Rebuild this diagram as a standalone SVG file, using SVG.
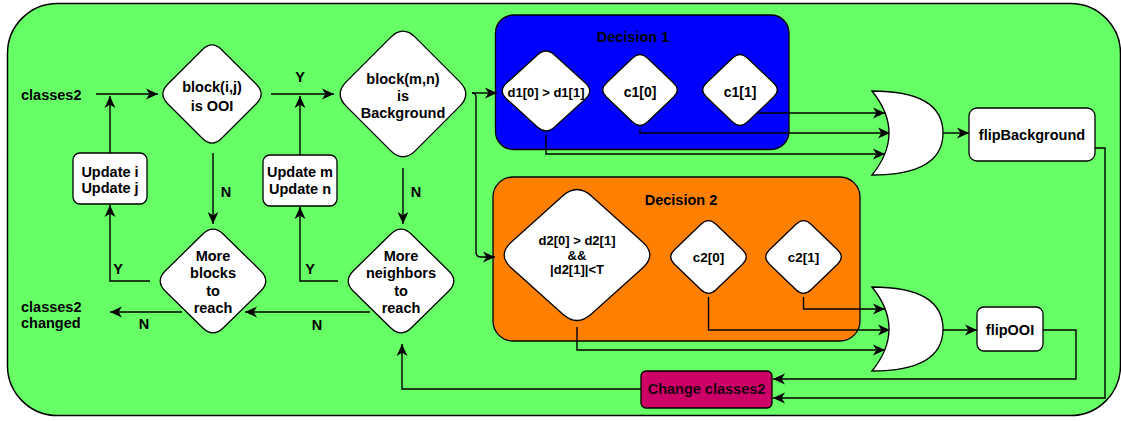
<svg xmlns="http://www.w3.org/2000/svg" width="1121" height="421" viewBox="0 0 1121 421">
<defs>
<marker id="arr" viewBox="0 0 10 10" refX="10" refY="5" markerWidth="12" markerHeight="12" markerUnits="userSpaceOnUse" orient="auto">
<path d="M0,0.5 L10,5 L0,9.5 L2.8,5 Z" fill="#000"/>
</marker>
<style>
.t{font-family:"Liberation Sans",Arial,Helvetica,sans-serif;font-weight:bold;font-size:14.5px;fill:#000;text-anchor:middle}
.s{text-anchor:start}
.n{fill:#fff;stroke:#000;stroke-width:1.3}
.c{fill:none;stroke:#000;stroke-width:1.4}
.a{marker-end:url(#arr)}
</style>
</defs>
<rect id="background" x="7.5" y="3.5" width="1113" height="412" rx="50" fill="#66FF66" stroke="#000" stroke-width="1.5"/>

<g id="decision1">
<rect x="495.5" y="15" width="293.5" height="134.5" rx="18" fill="#0000FF" stroke="#000" stroke-width="1.3"/>
<text class="t" x="633" y="42">Decision 1</text>
</g>
<g id="decision2">
<rect x="493" y="177" width="367" height="164" rx="20" fill="#FF8000" stroke="#000" stroke-width="1.3"/>
<text class="t" x="681" y="205">Decision 2</text>
</g>

<g id="connectors">
<path class="c a" d="M96,94 L158,94"/>
<path class="c a" d="M110,153 L110,96"/>
<path class="c a" d="M271,94 L334,94"/>
<path class="c a" d="M300,155 L300,96"/>
<path class="c a" d="M213,153 L213,224"/>
<path class="c a" d="M403,168 L403,224"/>
<path class="c a" d="M150,281 L110,281 L110,205"/>
<path class="c a" d="M338,281 L300,281 L300,207"/>
<path class="c a" d="M182,312 L110,312"/>
<path class="c a" d="M370,312 L245,312"/>
<path class="c a" d="M472,93 L497,93"/>
<path class="c a" d="M472,93 Q476,93 476,97 L476,252 Q476,257 481,257 L495,257"/>
<path class="c a" d="M757,113 L885,113"/>
<path class="c a" d="M640,129 L640,133 L890,133"/>
<path class="c a" d="M546,134.5 L546,154 L885,154"/>
<path class="c a" d="M943,133 L969,133"/>
<path class="c a" d="M803.5,297 L803.5,309 L885,309"/>
<path class="c a" d="M708.5,297 L708.5,330 L890,330"/>
<path class="c a" d="M577,327 L577,350 L885,350"/>
<path class="c a" d="M943,330 L977,330"/>
<path class="c a" d="M1043,330 L1076,330 L1076,379 L773,379"/>
<path class="c a" d="M1095,148 L1105,148 L1105,398 L773,398"/>
<path class="c a" d="M641,389 L402,389 L402,344"/>
<text class="t" x="300" y="82">Y</text>
<text class="t" x="226" y="197">N</text>
<text class="t" x="416" y="197">N</text>
<text class="t" x="118" y="274">Y</text>
<text class="t" x="310" y="274">Y</text>
<text class="t" x="144" y="329">N</text>
<text class="t" x="317" y="330">N</text>
</g>

<g id="classes2">
<text class="t s" x="21" y="100">classes2</text>
</g>
<g id="classes2-changed">
<text class="t s" x="21" y="312">classes2</text>
<text class="t s" x="21" y="328">changed</text>
</g>

<g id="block-ij">
<path class="n" d="M221.7,49.7 L256.3,84.3 Q266,94 256.3,103.7 L221.7,138.3 Q212,148 202.3,138.3 L167.7,103.7 Q158,94 167.7,84.3 L202.3,49.7 Q212,40 221.7,49.7 Z"/>
<text class="t" x="212" y="92">block(i,j)</text>
<text class="t" x="212" y="111">is OOI</text>
</g>
<g id="block-mn">
<path class="n" d="M415.4,37.4 L459.6,81.6 Q472,94 459.6,106.4 L415.4,150.6 Q403,163 390.6,150.6 L346.4,106.4 Q334,94 346.4,81.6 L390.6,37.4 Q403,25 415.4,37.4 Z"/>
<text class="t" x="403" y="84">block(m,n)</text>
<text class="t" x="403" y="101">is</text>
<text class="t" x="403" y="118">Background</text>
</g>
<g id="update-ij">
<rect class="n" x="73" y="153" width="74" height="51" rx="7"/>
<text class="t" x="110" y="177">Update i</text>
<text class="t" x="110" y="193">Update j</text>
</g>
<g id="update-mn">
<rect class="n" x="263" y="155" width="74" height="51" rx="7"/>
<text class="t" x="300" y="177">Update m</text>
<text class="t" x="300" y="194">Update n</text>
</g>
<g id="more-blocks">
<path class="n" d="M223.4,234.3 L260.6,270.7 Q271,281 260.6,291.3 L223.4,327.7 Q213,338 202.6,327.7 L165.4,291.3 Q155,281 165.4,270.7 L202.6,234.3 Q213,224 223.4,234.3 Z"/>
<text class="t" x="213" y="261">More</text>
<text class="t" x="213" y="278">blocks</text>
<text class="t" x="213" y="296">to</text>
<text class="t" x="213" y="313">reach</text>
</g>
<g id="more-neighbors">
<path class="n" d="M411.4,234.3 L448.6,270.7 Q459,281 448.6,291.3 L411.4,327.7 Q401,338 390.6,327.7 L353.4,291.3 Q343,281 353.4,270.7 L390.6,234.3 Q401,224 411.4,234.3 Z"/>
<text class="t" x="401" y="261">More</text>
<text class="t" x="401" y="278">neighbors</text>
<text class="t" x="401" y="296">to</text>
<text class="t" x="401" y="313">reach</text>
</g>
<g id="d1">
<path class="n" d="M554.6,54.9 L585.4,83.1 Q594,91 585.4,98.9 L554.6,127.1 Q546,135 537.4,127.1 L506.6,98.9 Q498,91 506.6,83.1 L537.4,54.9 Q546,47 554.6,54.9 Z"/>
<text class="t" x="546" y="96.5" style="font-size:13px">d1[0] &gt; d1[1]</text>
</g>
<g id="c1-0">
<path class="n" d="M647.4,58 L673.6,83 Q681,90 673.6,97 L647.4,122 Q640,129 632.6,122 L606.4,97 Q599,90 606.4,83 L632.6,58 Q640,51 647.4,58 Z"/>
<text class="t" x="640" y="96.5" style="font-size:14px">c1[0]</text>
</g>
<g id="c1-1">
<path class="n" d="M747.4,58 L773.6,83 Q781,90 773.6,97 L747.4,122 Q740,129 732.6,122 L706.4,97 Q699,90 706.4,83 L732.6,58 Q740,51 747.4,58 Z"/>
<text class="t" x="740" y="96.5" style="font-size:14px">c1[1]</text>
</g>
<g id="d2">
<path class="n" d="M591.4,196 L642.6,242 Q657,255 642.6,268 L591.4,314 Q577,327 562.6,314 L511.4,268 Q497,255 511.4,242 L562.6,196 Q577,183 591.4,196 Z"/>
<text class="t" x="577" y="244.5" style="font-size:13px">d2[0] &gt; d2[1]</text>
<text class="t" x="577" y="259.5" style="font-size:13px">&amp;&amp;</text>
<text class="t" x="577" y="274" style="font-size:13px">|d2[1]|&lt;T</text>
</g>
<g id="c2-0">
<path class="n" d="M716,224.2 L742.5,249.8 Q750,257 742.5,264.2 L716,289.8 Q708.5,297 701,289.8 L674.5,264.2 Q667,257 674.5,249.8 L701,224.2 Q708.5,217 716,224.2 Z"/>
<text class="t" x="708.5" y="262" style="font-size:13.5px">c2[0]</text>
</g>
<g id="c2-1">
<path class="n" d="M811,224.2 L837.5,249.8 Q845,257 837.5,264.2 L811,289.8 Q803.5,297 796,289.8 L769.5,264.2 Q762,257 769.5,249.8 L796,224.2 Q803.5,217 811,224.2 Z"/>
<text class="t" x="803.5" y="262" style="font-size:13.5px">c2[1]</text>
</g>
<g id="or1">
<path class="n" d="M872,91 Q943,91 943,133 Q943,175 872,175 Q906,133 872,91 Z"/>
</g>
<g id="or2">
<path class="n" d="M872,287 Q943,287 943,329 Q943,371 872,371 Q906,329 872,287 Z"/>
</g>
<g id="flipBackground">
<rect class="n" x="969" y="108" width="126" height="53" rx="8"/>
<text class="t" x="1032" y="139.5">flipBackground</text>
</g>
<g id="flipOOI">
<rect class="n" x="977" y="307" width="66" height="44" rx="7"/>
<text class="t" x="1010" y="335">flipOOI</text>
</g>
<g id="change-classes2">
<rect x="641" y="371" width="131" height="37" rx="5" fill="#CC0066" stroke="#000" stroke-width="1.3"/>
<text class="t" x="706.5" y="394" style="fill:#1a0010">Change classes2</text>
</g>
</svg>
